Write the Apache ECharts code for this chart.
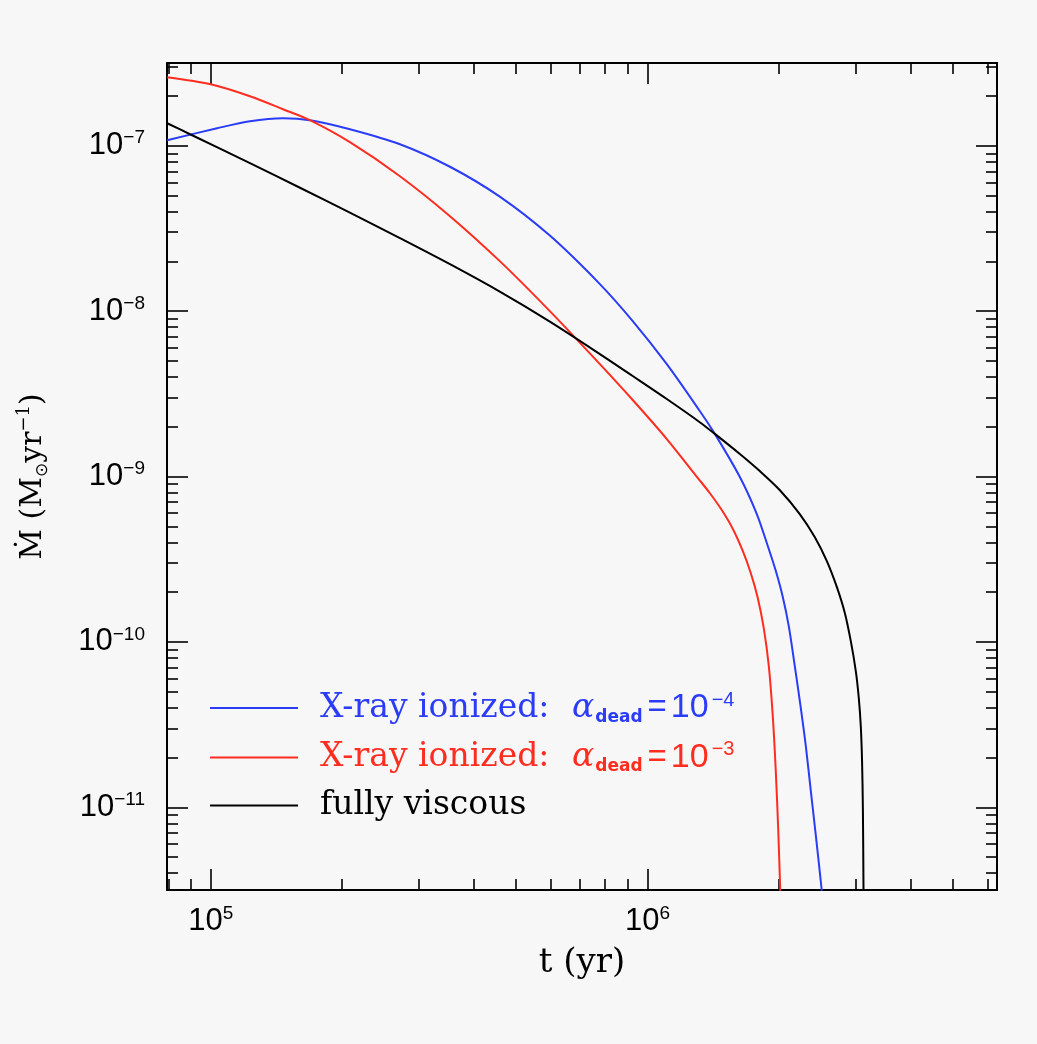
<!DOCTYPE html>
<html>
<head>
<meta charset="UTF-8">
<title>Mdot vs t</title>
<script src="https://cdn.jsdelivr.net/npm/echarts@6/dist/echarts.min.js"></script>
<style>
html, body { margin: 0; padding: 0; background: #f7f7f7; }
#main { width: 1037px; height: 1044px; }
</style>
</head>
<body>
<div id="main"></div>
<script type="text/javascript">
// values: t in yr, Mdot in Msun/yr
var tBlue = [7.95e4, 1.034e5, 1.23e5, 1.464e5, 1.687e5, 2.083e5, 2.712e5, 3.53e5, 4.59e5, 5.976e5, 7.78e5, 9.25e5,
             1.107e6, 1.317e6, 1.426e6, 1.627e6, 1.779e6, 1.885e6, 1.966e6, 2.04e6, 2.105e6, 2.173e6, 2.243e6,
             2.303e6, 2.364e6, 2.428e6, 2.506e6];
var mBlue = [1.08e-7, 1.275e-7, 1.406e-7, 1.466e-7, 1.426e-7, 1.258e-7, 1.021e-7, 7.46e-8, 4.92e-8, 2.86e-8, 1.456e-8, 8.70e-9,
             4.78e-9, 2.49e-9, 1.81e-9, 9.93e-10, 5.93e-10, 3.80e-10, 2.69e-10, 1.87e-10, 1.249e-10, 7.16e-11, 3.99e-11,
             2.35e-11, 1.266e-11, 6.77e-12, 3.13e-12];

var tRed = [7.95e4, 1.0e5, 1.23e5, 1.464e5, 1.687e5, 2.083e5, 2.712e5, 3.53e5, 4.59e5, 5.976e5, 7.78e5, 9.25e5,
            1.107e6, 1.304e6, 1.388e6, 1.479e6, 1.568e6, 1.652e6, 1.723e6, 1.788e6, 1.845e6, 1.895e6, 1.935e6,
            1.966e6, 1.992e6, 2.013e6];
var mRed = [2.594e-7, 2.352e-7, 1.991e-7, 1.662e-7, 1.426e-7, 1.050e-7, 6.54e-8, 3.75e-8, 2.005e-8, 1.0e-8, 4.78e-9, 2.90e-9,
            1.685e-9, 9.79e-10, 7.95e-10, 6.27e-10, 4.82e-10, 3.55e-10, 2.61e-10, 1.845e-10, 1.215e-10, 7.16e-11, 3.57e-11,
            1.66e-11, 7.21e-12, 3.13e-12];

var tBlack = [7.95e4, 8.97e4, 1.23e5, 1.601e5, 2.083e5, 2.712e5, 3.53e5, 4.59e5, 5.976e5, 7.78e5, 9.25e5, 1.107e6,
              1.317e6, 1.426e6, 1.627e6, 1.807e6, 2.007e6, 2.231e6, 2.414e6, 2.572e6, 2.712e6, 2.829e6, 2.919e6,
              2.997e6, 3.045e6, 3.077e6, 3.098e6, 3.112e6, 3.122e6];
var mBlack = [1.367e-7, 1.173e-7, 7.84e-8, 5.57e-8, 3.94e-8, 2.76e-8, 1.92e-8, 1.311e-8, 8.64e-9, 5.50e-9, 4.05e-9, 2.94e-9,
              2.13e-9, 1.81e-9, 1.368e-9, 1.079e-9, 8.29e-10, 5.93e-10, 4.31e-10, 3.09e-10, 2.15e-10, 1.497e-10, 1.014e-10,
              6.68e-11, 4.59e-11, 3.11e-11, 1.91e-11, 9.53e-12, 3.13e-12];

// axis ranges (decades) and tick positions
var xExp = [4.9, 6.8];
var yExp = [-11.5, -6.5];
var xMajor = [1e5, 1e6];
var xMinor = [8e4, 9e4, 2e5, 3e5, 4e5, 5e5, 6e5, 7e5, 8e5, 9e5, 2e6, 3e6, 4e6, 5e6, 6e6];
var yMajor = [1e-11, 1e-10, 1e-9, 1e-8, 1e-7];
var yMinor = [4e-12, 5e-12, 6e-12, 7e-12, 8e-12, 9e-12,
              2e-11, 3e-11, 4e-11, 5e-11, 6e-11, 7e-11, 8e-11, 9e-11,
              2e-10, 3e-10, 4e-10, 5e-10, 6e-10, 7e-10, 8e-10, 9e-10,
              2e-9, 3e-9, 4e-9, 5e-9, 6e-9, 7e-9, 8e-9, 9e-9,
              2e-8, 3e-8, 4e-8, 5e-8, 6e-8, 7e-8, 8e-8, 9e-8,
              2e-7, 3e-7];

var names = ['X-ray ionized: alpha_dead=1e-4', 'X-ray ionized: alpha_dead=1e-3', 'fully viscous'];
var legendText = {
    'X-ray ionized: alpha_dead=1e-4': '{m0|X-ray ionized: }{a|α}{d|dead}{q|=}{n|10}{e|−4}',
    'X-ray ionized: alpha_dead=1e-3': '{m0|X-ray ionized: }{a|α}{d|dead}{q|=}{n|10}{e|−3}',
    'fully viscous': '{m0|fully viscous}'
};
var colors = ['#2a3cf6', '#ff2d1f', '#000000'];

function lg(v) { return Math.log10(v); }
function pairs(t, m) { return t.map(function (v, i) { return [lg(v), lg(m[i])]; }); }

function expLabel(v) {
    var e = Math.round(v);
    return '{b|10}{s|' + (e < 0 ? '−' : '') + Math.abs(e) + '}';
}
var tickRich = {
    b: { fontFamily: 'Liberation Sans', fontSize: 31, lineHeight: 34, color: '#000' },
    s: { fontFamily: 'Liberation Sans', fontSize: 19, lineHeight: 22, verticalAlign: 'top', color: '#000' }
};

function makeAxis(pos, range, ticks, len, line, label) {
    var ax = {
        type: 'value', position: pos, min: range[0], max: range[1],
        axisLine: { show: line, onZero: false, lineStyle: { color: '#000', width: 2 } },
        axisTick: { show: true, inside: true, length: len, customValues: ticks.map(lg),
                    lineStyle: { color: '#000', width: 1.6 } },
        axisLabel: { show: false },
        splitLine: { show: false }
    };
    if (label) {
        ax.axisLabel = { show: true, customValues: ticks.map(lg), formatter: expLabel, rich: tickRich, margin: label };
    }
    return ax;
}

var xBottom = makeAxis('bottom', xExp, xMajor, 21, true, 14);
xBottom.name = 't (yr)';
xBottom.nameLocation = 'middle';
xBottom.nameGap = 54;
xBottom.nameTextStyle = { fontFamily: 'DejaVu Serif', fontSize: 34, lineHeight: 38, color: '#000' };

var yLeft = makeAxis('left', yExp, yMajor, 21, true, 22);
yLeft.name = '{m|Ṁ (M}{o|⊙}{m|yr}{u|−1}{m|)}';
yLeft.nameLocation = 'middle';
yLeft.nameGap = 116;
yLeft.nameTextStyle = {
    color: '#000',
    rich: {
        m: { fontFamily: 'DejaVu Serif', fontSize: 30, lineHeight: 36, color: '#000' },
        o: { fontFamily: 'DejaVu Sans', fontSize: 17, lineHeight: 14, verticalAlign: 'bottom', color: '#000' },
        u: { fontFamily: 'DejaVu Serif', fontSize: 18, lineHeight: 20, verticalAlign: 'top', color: '#000' }
    }
};

var chart = echarts.init(document.getElementById('main'));

var option = {
    backgroundColor: '#f7f7f7',
    animation: false,
    grid: { left: 167, right: 40, top: 63, bottom: 154 },
    xAxis: [
        xBottom,
        makeAxis('bottom', xExp, xMinor, 11, false, 0),
        makeAxis('top', xExp, xMajor, 21, true, 0),
        makeAxis('top', xExp, xMinor, 11, false, 0)
    ],
    yAxis: [
        yLeft,
        makeAxis('left', yExp, yMinor, 11, false, 0),
        makeAxis('right', yExp, yMajor, 21, true, 0),
        makeAxis('right', yExp, yMinor, 11, false, 0)
    ],
    legend: {
        orient: 'vertical',
        left: 205,
        top: 685,
        icon: 'rect',
        itemWidth: 88,
        itemHeight: 2,
        itemGap: 13.5,
        selectedMode: false,
        formatter: function (name) { return legendText[name]; },
        data: names.map(function (n, i) { return { name: n, textStyle: { color: colors[i] } }; }),
        textStyle: {
            rich: {
                m0: { fontFamily: 'DejaVu Serif', fontSize: 33, lineHeight: 36, padding: [0, 0, 0, 17] },
                a: { fontFamily: 'DejaVu Serif', fontStyle: 'italic', fontSize: 33, lineHeight: 36, padding: [0, 0, 0, 12] },
                d: { fontFamily: 'DejaVu Sans', fontWeight: 'bold', fontSize: 17, lineHeight: 14, verticalAlign: 'bottom', padding: [0, 0, 0, 1] },
                q: { fontFamily: 'Liberation Sans', fontSize: 33, lineHeight: 36, padding: [0, 4, 0, 5] },
                n: { fontFamily: 'Liberation Sans', fontSize: 34, lineHeight: 36 },
                e: { fontFamily: 'Liberation Sans', fontSize: 20, lineHeight: 22, verticalAlign: 'top', padding: [0, 0, 0, 3] }
            }
        }
    },
    series: [
        { name: names[0], type: 'line', data: pairs(tBlue, mBlue) },
        { name: names[1], type: 'line', data: pairs(tRed, mRed) },
        { name: names[2], type: 'line', data: pairs(tBlack, mBlack) }
    ].map(function (s, i) {
        s.symbol = 'none';
        s.smooth = 0.3;
        s.clip = true;
        s.color = colors[i];
        s.lineStyle = { color: colors[i], width: 2 };
        return s;
    })
};

chart.setOption(option);
</script>
</body>
</html>
